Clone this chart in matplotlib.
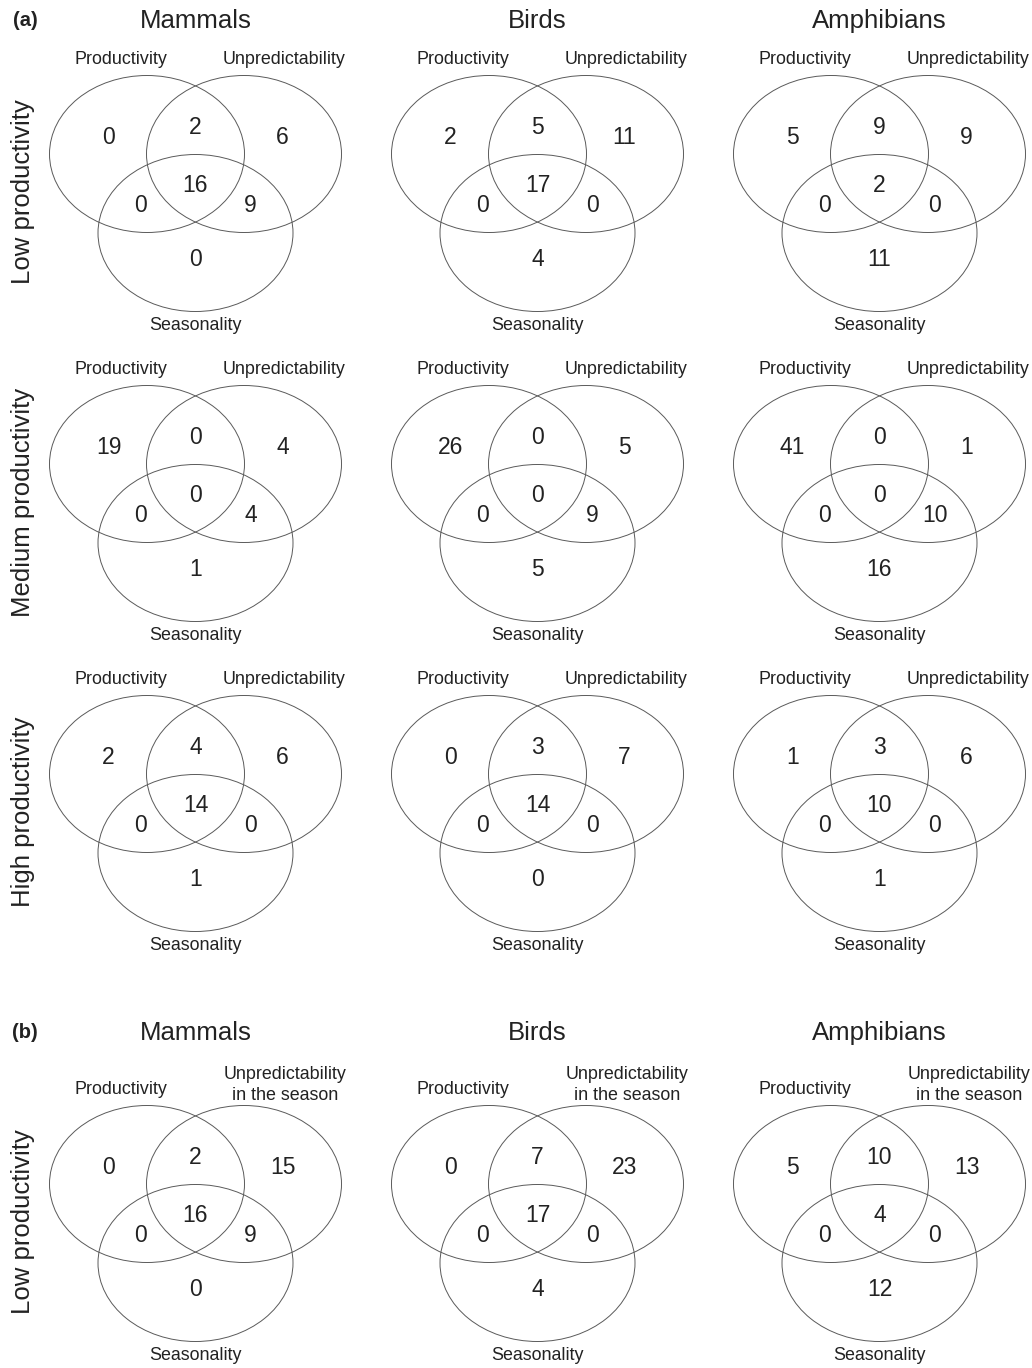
import matplotlib
matplotlib.use("Agg")
import matplotlib.pyplot as plt
from matplotlib.patches import Ellipse

plt.rcParams['font.family'] = ['Liberation Sans', 'DejaVu Sans']

# region order: P only, P&U, U only, P&U&S, P&S, U&S, S only
taxa = ["Mammals", "Birds", "Amphibians"]
row_labels = ["Low productivity", "Medium productivity", "High productivity", "Low productivity"]

low_a = [[0, 2, 6, 16, 0, 9, 0],
         [2, 5, 11, 17, 0, 0, 4],
         [5, 9, 9, 2, 0, 0, 11]]
medium_a = [[19, 0, 4, 0, 0, 4, 1],
            [26, 0, 5, 0, 0, 9, 5],
            [41, 0, 1, 0, 0, 10, 16]]
high_a = [[2, 4, 6, 14, 0, 0, 1],
          [0, 3, 7, 14, 0, 0, 0],
          [1, 3, 6, 10, 0, 0, 1]]
low_b = [[0, 2, 15, 16, 0, 9, 0],
         [0, 7, 23, 17, 0, 0, 4],
         [5, 10, 13, 4, 0, 0, 12]]
rows = [low_a, medium_a, high_a, low_b]

set_a = ["Productivity", "Unpredictability", "Seasonality"]
set_b = ["Productivity", "Unpredictability\nin the season", "Seasonality"]

W, H = 1032, 1368
fig = plt.figure(figsize=(W / 100, H / 100), dpi=100)
ax = fig.add_axes([0, 0, 1, 1])
ax.set_xlim(0, W)
ax.set_ylim(H, 0)
ax.axis('off')

col_x = [195.5, 537.5, 879.5]
row_y = [154, 464, 774, 1184]
# label offsets of each region from the panel centre
reg_dx = [-87, 0, 87, 0, -55, 55, 0]
reg_dy = [-16, -26, -16, 32, 52, 52, 105]

lc = '#5a5a5a'
tc = '#222222'
fs_set = 12.9

for r, data in enumerate(rows):
    ey = row_y[r]
    names = set_b if r == 3 else set_a
    for c, vals in enumerate(data):
        cx = col_x[c]
        for (dx, dy) in [(-48.5, 0), (48.5, 0), (0, 79)]:
            ax.add_patch(Ellipse((cx + dx, ey + dy), 195, 157, fill=False,
                                 edgecolor=lc, linewidth=0.7))
        for v, dx, dy in zip(vals, reg_dx, reg_dy):
            ax.text(cx + dx, ey + dy, str(v), ha='center', va='center',
                    fontsize=16.5, color=tc)
        ax.text(cx - 75, ey - 95, names[0], ha='center', va='center', fontsize=fs_set, color=tc)
        if r == 3:
            ax.text(cx + 90, ey - 99, names[1], ha='center', va='center', fontsize=fs_set,
                    color=tc, linespacing=1.3)
        else:
            ax.text(cx + 89, ey - 95, names[1], ha='center', va='center', fontsize=fs_set, color=tc)
        ax.text(cx, ey + 172, names[2], ha='center', va='center', fontsize=fs_set, color=tc)
    ax.text(23, ey + 38, row_labels[r], rotation=90, ha='center', va='center',
            fontsize=18.5, color=tc)

# column titles and panel letters
for ty, letter in [(21, "(a)"), (1033, "(b)")]:
    ax.text(25, ty - 1, letter, ha='center', va='center', fontsize=14.5, fontweight='bold', color=tc)
    for c, name in enumerate(taxa):
        ax.text(col_x[c], ty, name, ha='center', va='center', fontsize=18.5, color=tc)

fig.savefig("out.png", dpi=100, facecolor='white')
